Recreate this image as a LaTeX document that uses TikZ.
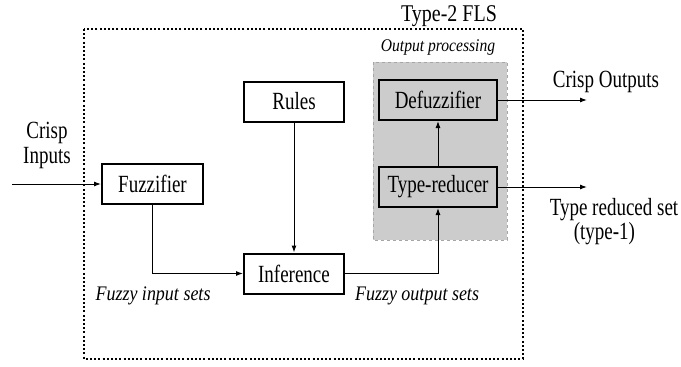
\documentclass[tikz,border=0pt]{standalone}
\usepackage{graphicx}
\usepackage{fontspec}
\setmainfont{Liberation Serif}
\usetikzlibrary{arrows.meta}
% upright labels are set a little taller than wide
\newcommand{\tall}[1]{\scalebox{1}[1.3]{#1}}
\newcommand{\talli}[1]{\scalebox{1}[1.15]{#1}}
\begin{document}
\begin{tikzpicture}[x=1pt,y=-1pt,
  block/.style={draw,line width=2pt,minimum width=#1,minimum height=40pt,inner sep=0pt,
    font=\fontsize{19}{22}\selectfont},
  block/.default=100pt,
  flow/.style={line width=1pt,-{Latex[length=7pt,width=5pt]}},
  lbl/.style={font=\fontsize{19}{19}\selectfont,inner sep=0pt},
  itl/.style={font=\fontsize{18}{22}\selectfont\itshape,inner sep=0pt}]
\useasboundingbox (0,0) rectangle (681,367);

% outer system boundary
\draw[line width=2pt,dash pattern=on 2pt off 2.2pt] (84,29) rectangle (523,359);
\node[lbl,font=\fontsize{20}{24}\selectfont,anchor=base] (title) at (449,21.5)
  {\scalebox{1}[1.2]{Type-2 FLS}};

% output processing group
\draw[gray!70,fill=black!20,line width=0.8pt,dashed] (373,62) rectangle (507,240);
\node[itl,font=\fontsize{15.6}{18}\selectfont\itshape] (oplabel) at (438,47) {\talli{Output processing}};

% blocks
\node[block=101pt] (fuzz) at (152.5,184) {\tall{Fuzzifier}};
\node[block] (rules) at (294,101.5) {\tall{Rules}};
\node[block] (inf) at (294,273.5) {\tall{Inference}};
\node[block=118pt,fill=black!20] (defuzz) at (438,100) {\tall{Defuzzifier}};
\node[block=118pt,fill=black!20] (tr) at (438,187) {\tall{Type-reducer}};

% external ends
\coordinate (inp) at (12,184);
\coordinate (out1) at (587,100);
\coordinate (out2) at (587,187);

% connectors
\draw[flow] (inp) -- (fuzz.west);
\draw[flow] (fuzz.south) |- (inf.west);
\draw[flow] (rules.south) -- (inf.north);
\draw[flow] (inf.east) -| (tr.south);
\draw[flow] (tr.north) -- (defuzz.south);
\draw[flow] (defuzz.east) -- (out1);
\draw[flow] (tr.east) -- (out2);

% labels
\node[lbl] (cin) at (47,146) {\tall{\begin{tabular}{@{}c@{}}Crisp\\Inputs\end{tabular}}};
\node[lbl] (cout) at (606,82) {\tall{Crisp Outputs}};
\node[lbl,font=\fontsize{19}{16.5}\selectfont] (trs) at (614,222)
  {\tall{\begin{tabular}{@{}l@{}}Type reduced set\\\hspace{24pt}(type-1)\end{tabular}}};
\node[itl] (fis) at (153,296) {\talli{Fuzzy input sets}};
\node[itl] (fos) at (417,296) {\talli{Fuzzy output sets}};
\end{tikzpicture}
\end{document}
